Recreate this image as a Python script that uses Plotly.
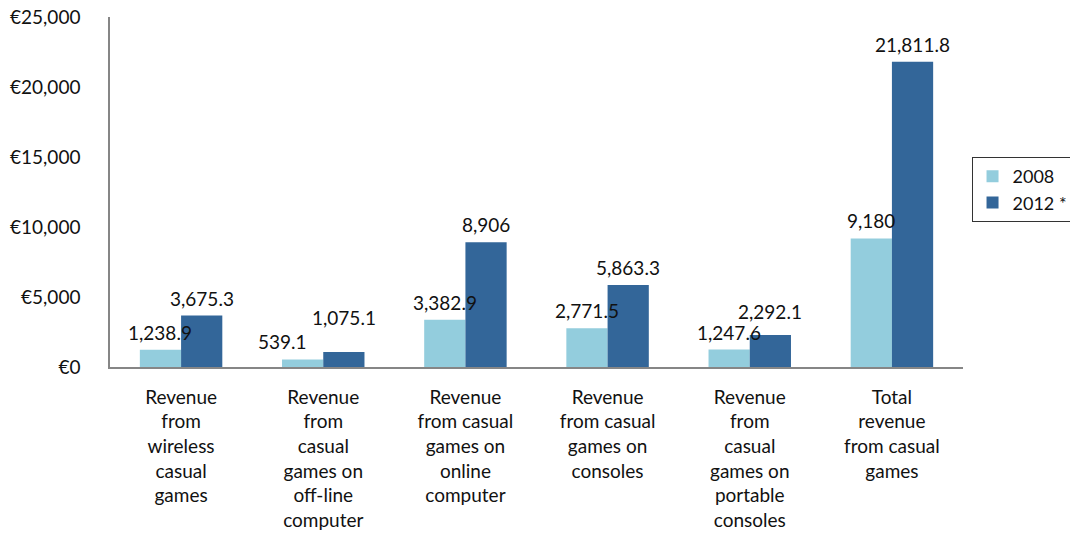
import plotly.graph_objects as go

categories = [
    "Revenue<br>from<br>wireless<br>casual<br>games",
    "Revenue<br>from<br>casual<br>games on<br>off-line<br>computer",
    "Revenue<br>from casual<br>games on<br>online<br>computer",
    "Revenue<br>from casual<br>games on<br>consoles",
    "Revenue<br>from<br>casual<br>games on<br>portable<br>consoles",
    "Total<br>revenue<br>from casual<br>games",
]
values_2008 = [1238.9, 539.1, 3382.9, 2771.5, 1247.6, 9180.0]
values_2012 = [3675.3, 1075.1, 8906.0, 5863.3, 2292.1, 21811.8]
series_names = ["2008", "2012 *"]


def fmt(v):
    s = f"{v:,.1f}"
    if s.endswith(".0"):
        s = s[:-2]
    return s


FONT = "Lato"
W, H = 1070, 546
ML, MR, MT, MB = 110, 107, 17, 179
BARGAP = 0.42

# label nudges (pixels) to mimic the manually placed labels of the original
label_nudge = {
    (0, 1): (-20, 0),   # 539.1
    (1, 1): (0, 17),    # 1,075.1
    (1, 4): (0, 6),     # 2,292.1
}

series = [
    (series_names[0], values_2008, "#93CDDD"),
    (series_names[1], values_2012, "#336699"),
]
fig = go.Figure()
for name, vals, color in series:
    fig.add_trace(go.Bar(
        x=categories, y=vals, name=name, marker_color=color,
        marker_line_width=0, hoverinfo="x+y+name",
    ))

cat_px = (W - ML - MR) / len(categories)
bar_px = cat_px * (1 - BARGAP) / len(series)
annotations = []
for si, (name, vals, color) in enumerate(series):
    base_dx = (si - (len(series) - 1) / 2) * bar_px
    for ci, v in enumerate(vals):
        dx, dy = label_nudge.get((si, ci), (0, 0))
        annotations.append(dict(
            x=categories[ci], y=v, xref="x", yref="y",
            text=fmt(v), showarrow=False,
            xanchor="center", yanchor="bottom",
            xshift=base_dx + dx, yshift=4 + dy,
            font=dict(family=FONT, size=19, color="#111111"),
        ))

fig.update_layout(
    width=W, height=H,
    margin=dict(l=ML, r=MR, t=MT, b=MB, autoexpand=False),
    plot_bgcolor="white", paper_bgcolor="white",
    barmode="group", bargap=BARGAP, bargroupgap=0,
    font=dict(family=FONT, size=19, color="#111111"),
    annotations=annotations,
    legend=dict(
        x=1.01, y=0.6, xanchor="left", yanchor="top",
        bordercolor="#333333", borderwidth=1,
        font=dict(family=FONT, size=18),
        itemwidth=30, tracegroupgap=2,
    ),
    xaxis=dict(
        showline=True, linecolor="#868686", linewidth=1.5,
        ticks="", showgrid=False, ticklabelstandoff=12,
        tickfont=dict(family=FONT, size=19),
    ),
    yaxis=dict(
        range=[0, 25000], dtick=5000, tickprefix="€", tickformat=",",
        showline=True, linecolor="#868686", linewidth=1.5,
        ticks="", showgrid=False, zeroline=False, ticklabelstandoff=24,
        tickfont=dict(family=FONT, size=19),
    ),
)

fig.write_html("out.html")
